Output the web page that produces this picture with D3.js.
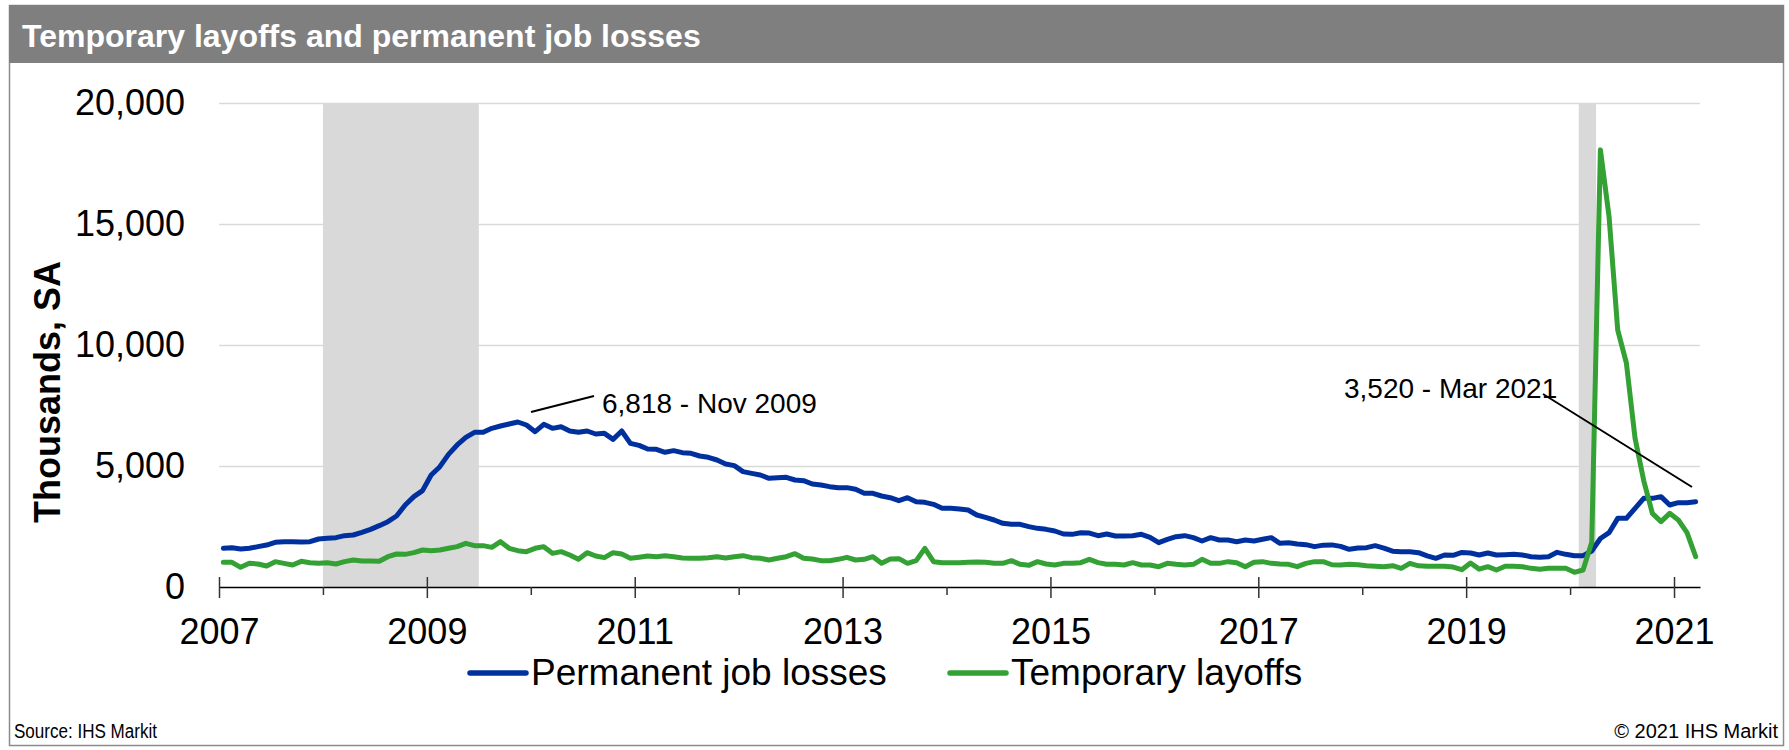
<!DOCTYPE html>
<html>
<head>
<meta charset="utf-8">
<script src="https://cdn.jsdelivr.net/npm/d3@7"></script>
<style>
  body { margin: 0; background: #fff; }
  text { font-family: Arial, "Liberation Sans", sans-serif; }
</style>
</head>
<body>
<div id="chart"></div>
<script>
    // monthly data, Jan 2007 .. Mar 2021, thousands SA
    var startYear = 2007;

    var permanent = [
        1598,1625,1570,1598,1667,1735,1846,1873,1873,1860,1873,1983,
        2011,2038,2121,2149,2259,2383,2534,2700,2934,3388,3733,3981,
        4628,4972,5482,5868,6185,6391,6391,6556,6653,6736,6818,6694,
        6419,6722,6556,6625,6446,6391,6446,6322,6350,6102,6446,5937,
        5850,5700,5689,5565,5634,5551,5523,5413,5358,5248,5083,5014,
        4766,4697,4628,4490,4518,4532,4421,4394,4256,4215,4146,4105,
        4105,4036,3870,3870,3760,3691,3567,3691,3526,3499,3416,3251,
        3251,3223,3182,2975,2879,2769,2631,2590,2590,2493,2424,2383,
        2314,2190,2176,2245,2230,2121,2190,2107,2107,2121,2176,2052,
        1832,1970,2080,2121,2039,1901,2039,1942,1942,1873,1942,1901,
        1970,2039,1804,1832,1777,1750,1667,1730,1740,1680,1556,1610,
        1625,1708,1610,1480,1460,1460,1419,1288,1185,1322,1308,1426,
        1405,1322,1405,1322,1336,1350,1322,1253,1226,1253,1433,1350,
        1295,1295,1488,2002,2245,2837,2837,3251,3664,3664,3733,3388,
        3485,3485,3520
    ];

    var temporary = [
        1019,1019,813,978,950,868,1047,978,909,1061,1006,978,
        1006,950,1047,1116,1074,1074,1061,1253,1364,1350,1419,1529,
        1501,1529,1598,1667,1804,1708,1708,1639,1873,1598,1501,1460,
        1598,1667,1391,1460,1322,1143,1419,1281,1212,1419,1364,1185,
        1230,1281,1253,1295,1253,1198,1185,1185,1212,1253,1198,1253,
        1295,1212,1185,1116,1185,1253,1377,1185,1157,1088,1088,1143,
        1226,1116,1143,1253,978,1157,1171,978,1088,1598,1047,1006,
        1006,1006,1019,1033,1019,978,978,1088,937,895,1047,950,
        909,978,978,1006,1143,1006,937,937,909,1006,909,909,
        840,978,937,909,937,1143,978,978,1047,1006,840,1019,
        1047,978,950,937,840,978,1047,1047,920,909,937,920,
        875,855,840,880,770,978,875,860,860,860,825,715,
        990,737,840,702,855,855,840,771,730,771,771,771,
        606,702,1848,18063,15302,10620,9256,6150,4400,3044,2700,3044,
        2769,2245,1253
    ];

    // recessions as [start month, end month] counted from Jan 2007
    var recessions = [[12, 30], [157, 159]];

    var yTicks = [0, 5000, 10000, 15000, 20000];
    var yearTicks = d3.range(2007, 2022);

    var seriesNames = ["Permanent job losses", "Temporary layoffs"],
        seriesColors = ["#00309e", "#33a133"];

    var w = 1789,
        h = 750,
        plotLeft = 219,
        plotRight = 1700,
        plotTop = 103,
        plotBottom = 587;

    var svg = d3.select("#chart")
        .append("svg")
        .attr("width", w)
        .attr("height", h);

    // frame and title bar
    svg.append("rect")
        .attr("x", 9.5).attr("y", 5.5)
        .attr("width", 1774).attr("height", 740)
        .attr("fill", "#fff")
        .attr("stroke", "#8c8c8c")
        .attr("stroke-width", 1.5);

    svg.append("rect")
        .attr("x", 9).attr("y", 5)
        .attr("width", 1775).attr("height", 58)
        .attr("fill", "#7f7f7f");

    svg.append("text")
        .attr("x", 22).attr("y", 47)
        .attr("fill", "#fff")
        .style("font-size", "32px")
        .style("font-weight", "bold")
        .text("Temporary layoffs and permanent job losses");

    var x = d3.scaleLinear().domain([0, 171]).range([plotLeft, plotRight]),
        y = d3.scaleLinear().domain([0, 20000]).range([plotBottom, plotTop]);

    // gridlines first, shading sits on top of them
    var grid = svg.append("g")
        .attr("transform", "translate(" + plotLeft + ",0)")
        .call(d3.axisLeft(y).tickValues(yTicks.slice(1)).tickSize(-(plotRight - plotLeft)).tickFormat(""));
    grid.select(".domain").remove();
    grid.selectAll("line").attr("stroke", "#d9d9d9").attr("stroke-width", 1.5);

    svg.selectAll("rect.recession")
        .data(recessions)
        .enter().append("rect")
        .attr("class", "recession")
        .attr("x", function(d) { return x(d[0]); })
        .attr("width", function(d) { return x(d[1]) - x(d[0]); })
        .attr("y", y(20000))
        .attr("height", y(0) - y(20000))
        .attr("fill", "#d9d9d9");

    // y labels
    var yAxis = svg.append("g")
        .attr("transform", "translate(" + plotLeft + ",0)")
        .call(d3.axisLeft(y).tickValues(yTicks).tickSize(0).tickPadding(34).tickFormat(d3.format(",")));
    yAxis.select(".domain").remove();
    yAxis.selectAll("text").style("font-size", "36px").attr("fill", "#000");

    svg.append("text")
        .attr("transform", "translate(60,392) rotate(-90)")
        .attr("text-anchor", "middle")
        .style("font-size", "36px")
        .style("font-weight", "bold")
        .text("Thousands, SA");

    // x axis, a tick every year and a label every other year
    var xAxis = svg.append("g")
        .attr("transform", "translate(0," + plotBottom + ")")
        .call(d3.axisBottom(x)
            .tickValues(yearTicks.map(function(yr) { return (yr - startYear) * 12; }))
            .tickSizeOuter(0)
            .tickFormat(function(d) {
                var yr = startYear + d / 12;
                return (yr - startYear) % 2 === 0 ? yr : "";
            }));
    xAxis.select(".domain").attr("stroke", "#000").attr("stroke-width", 1.5);
    xAxis.selectAll(".tick line")
        .attr("stroke", "#333")
        .attr("stroke-width", 1.5)
        .attr("y1", function(d) { return (d / 12) % 2 === 0 ? -10 : 0; })
        .attr("y2", function(d) { return (d / 12) % 2 === 0 ? 11 : 8; });
    xAxis.selectAll(".tick text")
        .attr("y", 57).attr("dy", 0)
        .attr("fill", "#000")
        .style("font-size", "36px");

    // lines, each point sits mid-month
    var line = d3.line()
        .x(function(d, i) { return x(i + 0.5); })
        .y(function(d) { return y(d); });

    [permanent, temporary].forEach(function(series, k) {
        svg.append("path")
            .datum(series)
            .attr("fill", "none")
            .attr("stroke", seriesColors[k])
            .attr("stroke-width", 5)
            .attr("stroke-linejoin", "round")
            .attr("stroke-linecap", "round")
            .attr("d", line);
    });

    // callouts
    var notes = [
        { text: "6,818 - Nov 2009", tx: 602, ty: 413, line: [531, 412, 594, 396] },
        { text: "3,520 - Mar 2021", tx: 1344, ty: 398, line: [1543, 394, 1692, 487] }
    ];
    notes.forEach(function(n) {
        svg.append("line")
            .attr("x1", n.line[0]).attr("y1", n.line[1])
            .attr("x2", n.line[2]).attr("y2", n.line[3])
            .attr("stroke", "#000")
            .attr("stroke-width", 2);
        svg.append("text")
            .attr("x", n.tx).attr("y", n.ty)
            .style("font-size", "28px")
            .text(n.text);
    });

    // legend
    var legendX = [470, 950];
    seriesNames.forEach(function(name, k) {
        var g = svg.append("g").attr("transform", "translate(" + legendX[k] + ",673)");
        g.append("line")
            .attr("x1", 0).attr("x2", 56)
            .attr("stroke", seriesColors[k])
            .attr("stroke-width", 5.5)
            .attr("stroke-linecap", "round");
        g.append("text")
            .attr("x", 61).attr("y", 12)
            .style("font-size", "37px")
            .text(name);
    });

    svg.append("text")
        .attr("x", 14).attr("y", 738)
        .attr("textLength", 143)
        .attr("lengthAdjust", "spacingAndGlyphs")
        .style("font-size", "20px")
        .text("Source: IHS Markit");

    svg.append("text")
        .attr("x", 1778).attr("y", 738)
        .attr("text-anchor", "end")
        .style("font-size", "20px")
        .text("\u00a9 2021 IHS Markit");
</script>
</body>
</html>
